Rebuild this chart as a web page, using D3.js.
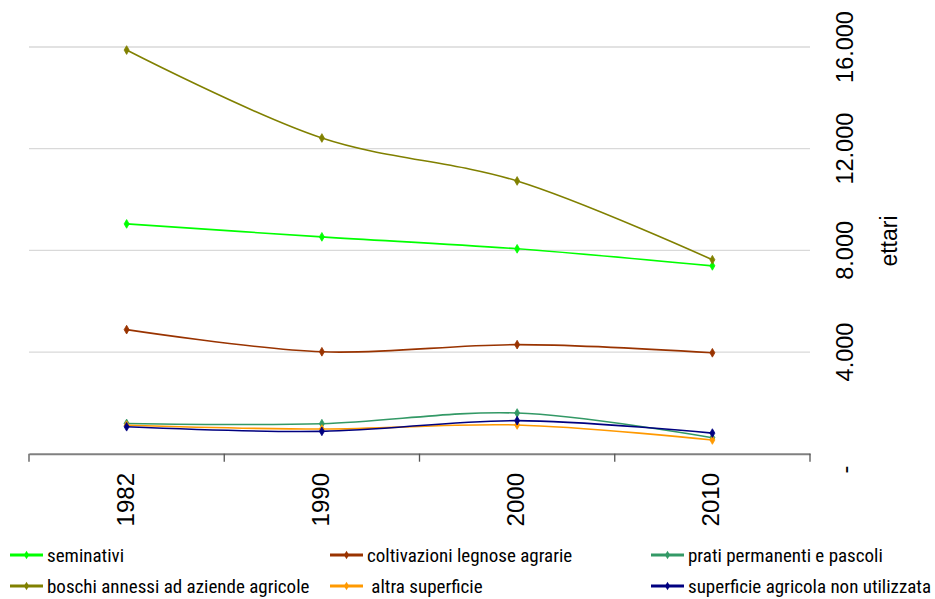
<!DOCTYPE html>
<html>
<head>
<meta charset="utf-8">
<script src="https://cdn.jsdelivr.net/npm/d3@7"></script>
<style>
  body { margin: 0; background: #fff; }
</style>
</head>
<body>
<svg id="chart" width="935" height="599"></svg>
<script>
// anni del censimento
var years = ["1982", "1990", "2000", "2010"]

// valori in ettari
var seminativi = [9040, 8530, 8060, 7390]
var coltivazioni = [4880, 4010, 4290, 3970]
var prati = [1190, 1180, 1600, 630]
var boschi = [15880, 12420, 10730, 7630]
var altra = [1120, 970, 1130, 540]
var nonUtilizzata = [1060, 880, 1300, 810]

var yTicks = [0, 4000, 8000, 12000, 16000]

var series = [
  {name: "seminativi", values: seminativi, color: "#00ff00"},
  {name: "coltivazioni legnose agrarie", values: coltivazioni, color: "#993300"},
  {name: "prati permanenti e pascoli", values: prati, color: "#339966"},
  {name: "boschi annessi ad aziende agricole", values: boschi, color: "#808000"},
  {name: "\u00a0altra superficie", values: altra, color: "#ff9900"},
  {name: "superficie agricola non utilizzata", values: nonUtilizzata, color: "#000080"}
]

var FONT = "'Liberation Sans', Arial, sans-serif"
var NARROW = "'Roboto Condensed', 'Liberation Sans', sans-serif"

var svg = d3.select("#chart")

var x = d3.scaleBand().domain(years).range([29, 810])
var y = d3.scaleLinear().domain([0, 16000]).range([453.7, 47])

// griglia orizzontale
svg.append("g")
  .selectAll("line")
  .data(yTicks.filter(d => d > 0))
  .join("line")
    .attr("x1", 29).attr("x2", 810)
    .attr("y1", d => y(d)).attr("y2", d => y(d))
    .attr("stroke", "#d9d9d9")
    .attr("stroke-width", 1.3)

// asse x
var xAxis = svg.append("g")
  .attr("transform", "translate(0," + y(0) + ")")
  .call(d3.axisBottom(x).tickSize(0).tickFormat(""))
xAxis.select(".domain").attr("stroke", "#808080").attr("stroke-width", 2)

svg.append("g")
  .selectAll("line")
  .data(years.concat(["end"]))
  .join("line")
    .attr("x1", (d, i) => i < years.length ? x(d) : x.range()[1])
    .attr("x2", (d, i) => i < years.length ? x(d) : x.range()[1])
    .attr("y1", y(0)).attr("y2", y(0) + 8)
    .attr("stroke", "#555")
    .attr("stroke-width", 1.3)

svg.append("g")
  .selectAll("text")
  .data(years)
  .join("text")
    .attr("transform", d => "translate(" + (x(d) + x.bandwidth() / 2 + 7) + ",473) rotate(-90)")
    .attr("text-anchor", "end")
    .attr("font-family", FONT)
    .attr("font-size", 24)
    .attr("fill", "#000")
    .text(d => d)

// asse y a destra, etichette ruotate
var fmt = d3.format(",")
svg.append("g")
  .selectAll("text")
  .data(yTicks)
  .join("text")
    .attr("transform", d => "translate(853," + y(d) + ") rotate(-90)")
    .attr("text-anchor", "middle")
    .attr("dx", d => d == 0 ? -16 : 0)
    .attr("font-family", FONT)
    .attr("font-size", 23.5)
    .attr("fill", "#000")
    .text(d => d == 0 ? "-" : fmt(d).replace(/,/g, "."))

svg.append("text")
  .attr("transform", "translate(897,241) rotate(-90)")
  .attr("text-anchor", "middle")
  .attr("font-family", FONT)
  .attr("font-size", 23)
  .text("ettari")

// linee smussate
var line = d3.line()
  .x((d, i) => x(years[i]) + x.bandwidth() / 2)
  .y(d => y(d))
  .curve(d3.curveCatmullRom)

var marker = d3.symbol(d3.symbolDiamond).size(22)

series.forEach(function(s) {
  var g = svg.append("g")
  g.append("path")
    .attr("d", line(s.values))
    .attr("fill", "none")
    .attr("stroke", s.color)
    .attr("stroke-width", 1.6)
  g.selectAll("path.m")
    .data(s.values)
    .join("path")
      .attr("class", "m")
      .attr("d", marker)
      .attr("transform", (d, i) => "translate(" + (x(years[i]) + x.bandwidth() / 2) + "," + y(d) + ")")
      .attr("fill", s.color)
      .attr("stroke", s.color)
      .attr("stroke-width", 0.8)
})

// legenda
var legX = [10, 330, 651]
var legY = [555, 586]
var leg = svg.append("g")
  .selectAll("g")
  .data(series)
  .join("g")
    .attr("transform", (d, i) => "translate(" + legX[i % 3] + "," + legY[Math.floor(i / 3)] + ")")

leg.append("line")
  .attr("x1", 0).attr("x2", 33)
  .attr("stroke", d => d.color)
  .attr("stroke-width", 3)
leg.append("path")
  .attr("d", marker)
  .attr("transform", "translate(16.5,0)")
  .attr("fill", d => d.color)
leg.append("text")
  .attr("x", 37)
  .attr("y", 7)
  .attr("font-family", NARROW)
  .attr("font-size", 19)
  .attr("fill", "#000")
  .text(d => d.name)
</script>
</body>
</html>
